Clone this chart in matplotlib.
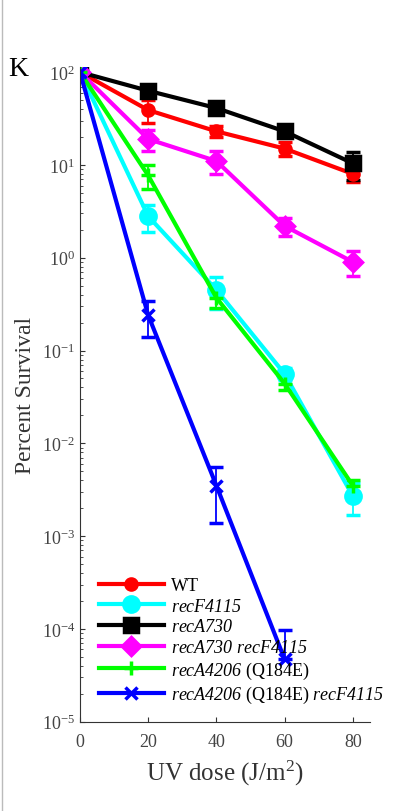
import matplotlib
matplotlib.use('Agg')
import matplotlib.pyplot as plt
from matplotlib.lines import Line2D

plt.rcParams['font.family'] = ['Liberation Serif', 'DejaVu Serif']
plt.rcParams['mathtext.fontset'] = 'custom'
plt.rcParams['mathtext.rm'] = 'Liberation Serif:italic'
plt.rcParams['mathtext.it'] = 'Liberation Serif:italic'

# UV dose (J/m^2)
dose = [0, 20, 40, 60, 80]

# percent survival and errors
wt = [100, 39, 23, 15, 8]
wt_err = [0, 11, 3, 2.5, 1.5]
recf = [100, 2.8, 0.45, 0.056, 0.0027]
recf_err = [0, 0.9, 0.17, 0.008, 0.001]
reca730 = [100, 63, 41, 23, 10.4]
reca730_err = [0, 9, 4, 3, 3.5]
reca730_recf = [100, 19, 11, 2.2, 0.9]
reca730_recf_err = [0, 5, 3, 0.5, 0.27]
reca4206 = [100, 7.7, 0.37, 0.044, 0.0035]
reca4206_err = [0, 2.2, 0.08, 0.006, 0.0005]
reca4206_recf_dose = [0, 20, 40, 60]
reca4206_recf = [100, 0.24, 0.0035, 4.7e-5]
reca4206_recf_lo = [0, 0.1, 0.0021, 0]
reca4206_recf_hi = [0, 0.1, 0.0021, 5e-5]

series = [
    (dose, wt, wt_err, 'red', 'o', 8, 'WT'),
    (dose, recf, recf_err, 'cyan', 'o', 11, r'$recF4115$'),
    (dose, reca730, reca730_err, 'black', 's', 10, r'$recA730$'),
    (dose, reca730_recf, reca730_recf_err, 'magenta', 'D', 9, r'$recA730$ $recF4115$'),
    (dose, reca4206, reca4206_err, 'lime', '+', 10, r'$recA4206$ (Q184E)'),
    (reca4206_recf_dose, reca4206_recf, [reca4206_recf_lo, reca4206_recf_hi], 'blue', 'x', 8,
     r'$recA4206$ (Q184E) $recF4115$'),
]

fig = plt.figure(figsize=(4.06, 8.12), dpi=100)
ax = fig.add_axes([0.197, 0.110, 0.714, 0.806])

handles = []
for x, y, e, c, m, ms, lab in series:
    ax.errorbar(x, y, yerr=e, color=c, lw=3, marker=m, ms=ms, mew=2.5,
                elinewidth=1.3, capsize=5, capthick=1.3)
    handles.append(Line2D([], [], color=c, lw=3, marker=m, ms=ms, mew=2.5, label=lab))

ax.set_yscale('log')
ax.set_ylim(1e-5, 113)
ax.set_xlim(0, 85)
ax.set_xticks([0, 20, 40, 60, 80])
ax.tick_params(direction='in', labelsize=13, colors='#333333', labelcolor='#444444')
ax.tick_params(axis='x', pad=8)
ax.tick_params(which='minor', direction='in', colors='#333333')
for s in ['top', 'right']:
    ax.spines[s].set_visible(False)
for s in ['left', 'bottom']:
    ax.spines[s].set_color('#333333')

ax.set_xlabel(r'UV dose (J/m$^{\mathregular{2}}$)', fontsize=18, color='#333333', labelpad=6)
ax.set_ylabel('Percent Survival', fontsize=17, color='#333333')

ax.legend(handles=handles, loc='upper left', bbox_to_anchor=(0.04, 0.232),
          frameon=False, fontsize=13, handlelength=3.6, labelspacing=0.2,
          borderaxespad=0, handletextpad=0.4)

fig.text(0.02, 0.915, 'K', fontsize=20, va='center')
fig.add_artist(Line2D([0.004, 0.004], [0, 1], color='#bbbbbb', lw=1))

fig.savefig('out.png', dpi=100)
